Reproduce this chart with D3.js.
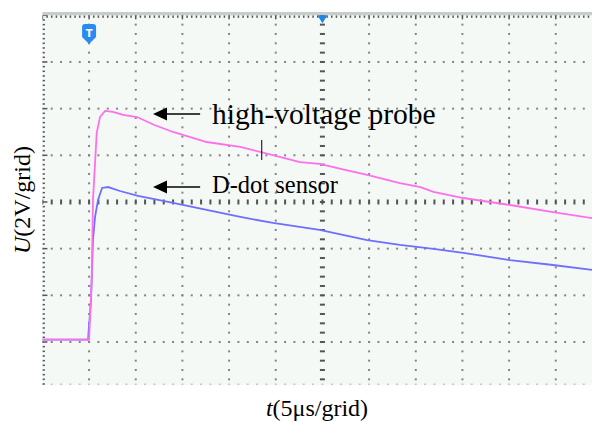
<!DOCTYPE html>
<style>
body { margin: 0; background: #fff; }
text { font-family: "Liberation Serif", "Times New Roman", serif; fill: #000; }
</style>
<svg width="592" height="421"></svg>
<script src="https://d3js.org/d3.v7.min.js"></script>
<script>

// time in µs (5 µs per grid), voltage in V (2 V per grid), 0 V at screen centre
var probeT = [0, 5.0, 5.28, 5.42, 5.82, 6.17, 6.71, 7.56, 8.64, 10.14, 12.0, 14.0, 17.6, 21.2, 24.7, 27.6, 29.7, 32.2, 34.8, 38.3, 40.5, 41.9, 45.1, 50.1, 54.7, 58.9, 61];
var probeV = [-5.9, -5.9, -3.34, 0.09, 2.96, 3.64, 3.9, 3.86, 3.73, 3.64, 3.3, 3.0, 2.57, 2.36, 2.01, 1.71, 1.63, 1.4, 1.16, 0.81, 0.64, 0.43, 0.17, -0.13, -0.43, -0.69, -0.8];

var dotT = [0, 4.9, 4.94, 5.21, 5.42, 5.64, 5.96, 6.39, 7.03, 8.31, 10.24, 12.0, 14.0, 17.6, 21.2, 24.7, 29.7, 34.8, 38.3, 41.9, 45.1, 50.1, 54.7, 58.9, 61];
var dotV = [-5.9, -5.9, -5.61, -4.2, -1.63, -0.64, 0.09, 0.6, 0.64, 0.47, 0.26, 0.12, -0.04, -0.34, -0.64, -0.9, -1.2, -1.63, -1.84, -2.01, -2.18, -2.49, -2.7, -2.91, -3.0];

var xTicks = d3.range(0, 61, 5);
var yTicks = d3.range(-8, 9, 2);

var svg = d3.select("svg"),
    div = 46.67,
    pLeft = 42.4,
    pTop = 15.3,
    pRight = 592,
    pBottom = 385;

var x = d3.scaleLinear().domain([0, 60]).range([pLeft, pLeft + 12 * div]);
var y = d3.scaleLinear().domain([-8, 8]).range([pTop + 8 * div, pTop]);

svg.append("defs").append("clipPath").attr("id", "plot")
  .append("rect").attr("x", pLeft).attr("y", pTop).attr("width", pRight - pLeft).attr("height", pBottom - pTop);

// screen background and top bar
svg.append("rect").attr("x", pLeft).attr("y", pTop).attr("width", pRight - pLeft).attr("height", pBottom - pTop).attr("fill", "#f5f9f6");
svg.append("rect").attr("x", pLeft).attr("y", 12).attr("width", pRight - pLeft).attr("height", 3.3).attr("fill", "#c9cdc9");

var g = svg.append("g").attr("clip-path", "url(#plot)");

// dotted graticule
var minorT = d3.range(0, 60.01, 1), minorV = d3.range(-8, 8.01, 0.4);
xTicks.filter(function(t) { return t > 0 && t !== 30; }).forEach(function(t) {
  g.selectAll(null).data(minorV).enter().append("rect")
    .attr("x", x(t) - 1).attr("y", function(v) { return y(v) - 1; })
    .attr("width", 2).attr("height", 2).attr("fill", "#858585");
});
yTicks.filter(function(v) { return v !== 0 && v < 8; }).forEach(function(v) {
  g.selectAll(null).data(minorT).enter().append("rect")
    .attr("x", function(t) { return x(t) - 1; }).attr("y", y(v) - 1)
    .attr("width", 2).attr("height", 2).attr("fill", "#858585");
});
// faint row at the cut-off bottom
g.selectAll(null).data(minorT).enter().append("rect")
  .attr("x", function(t) { return x(t) - 1; }).attr("y", pBottom - 1.5)
  .attr("width", 2).attr("height", 1.5).attr("fill", "#c4c6c4");

// centre axes with tick dashes
g.selectAll(null).data(d3.range(-8, 8.01, 0.4)).enter().append("rect")
  .attr("x", x(30) - 2.5).attr("y", function(v) { return y(v) - 1; })
  .attr("width", 5).attr("height", 2).attr("fill", "#555");
g.selectAll(null).data(d3.range(0, 60.01, 1)).enter().append("rect")
  .attr("x", function(t) { return x(t) - 1; }).attr("y", y(0) - 2.5)
  .attr("width", 2).attr("height", 5).attr("fill", "#555");

// edge ticks
g.selectAll(null).data(d3.range(-8, 8.01, 0.2)).enter().append("rect")
  .attr("x", pLeft).attr("y", function(v) { return y(v) - 0.75; })
  .attr("width", function(v) { return Math.abs(v / 2 - Math.round(v / 2)) < 0.01 ? 5 : 2.5; })
  .attr("height", 1.5).attr("fill", "#555");
g.selectAll(null).data(d3.range(0, 60.01, 0.5)).enter().append("rect")
  .attr("x", function(t) { return x(t) - 0.75; }).attr("y", pTop)
  .attr("width", 1.5).attr("height", function(t) { return t % 5 === 0 ? 4 : 2.5; }).attr("fill", "#555");

// traces
var line = d3.line().x(function(d) { return x(d[0]); }).y(function(d) { return y(d[1]); });
g.append("path").datum(d3.zip(dotT, dotV))
  .attr("fill", "none").attr("stroke", "#6e6eff").attr("stroke-width", 1.8).attr("d", line);
g.append("path").datum(d3.zip(probeT, probeV))
  .attr("fill", "none").attr("stroke", "#ff6fec").attr("stroke-width", 1.8).attr("d", line);

// trigger markers
var tx = x(5), ty = 34;
svg.append("path")
  .attr("d", "M" + (tx - 7) + "," + (ty - 7) + "q0,-3 3,-3h8q3,0 3,3v10l-7,7l-7,-7z")
  .attr("fill", "#2a8cf2");
svg.append("text").attr("x", tx).attr("y", ty + 3).attr("text-anchor", "middle")
  .style("font-family", "DejaVu Sans").style("font-weight", "bold").style("font-size", "10px")
  .style("fill", "#fff").text("T");
svg.append("path")
  .attr("d", "M" + (x(30) - 5) + "," + pTop + "h10l-5,8z")
  .attr("fill", "#1e86ea");

// cursor mark on the probe trace
svg.append("line").attr("x1", x(23.5)).attr("x2", x(23.5)).attr("y1", y(2.66)).attr("y2", y(1.8))
  .attr("stroke", "#000").attr("stroke-width", 1);

// annotations
function arrow(t0, t1, v) {
  var x0 = x(t0), x1 = x(t1), yy = y(v);
  svg.append("line").attr("x1", x0).attr("x2", x1 + 10).attr("y1", yy).attr("y2", yy)
    .attr("stroke", "#000").attr("stroke-width", 1.5);
  svg.append("path").attr("d", "M" + x1 + "," + yy + "l14,-6.5v13z").attr("fill", "#000");
}
arrow(16.9, 11.85, 3.77);
arrow(16.9, 11.85, 0.64);

svg.append("text").attr("x", 212).attr("y", 124).style("font-size", "29.5px").text("high-voltage probe");
svg.append("text").attr("x", 212).attr("y", 193).style("font-size", "24.5px").text("D-dot sensor");

// axis titles
var ylab = svg.append("text").attr("transform", "translate(30,200) rotate(-90)")
  .attr("text-anchor", "middle").style("font-size", "24px");
ylab.append("tspan").style("font-style", "italic").text("U");
ylab.append("tspan").text("(2V/grid)");

var xlab = svg.append("text").attr("x", 317).attr("y", 416)
  .attr("text-anchor", "middle").style("font-size", "24px");
xlab.append("tspan").style("font-style", "italic").text("t");
xlab.append("tspan").text("(5μs/grid)");

</script>
